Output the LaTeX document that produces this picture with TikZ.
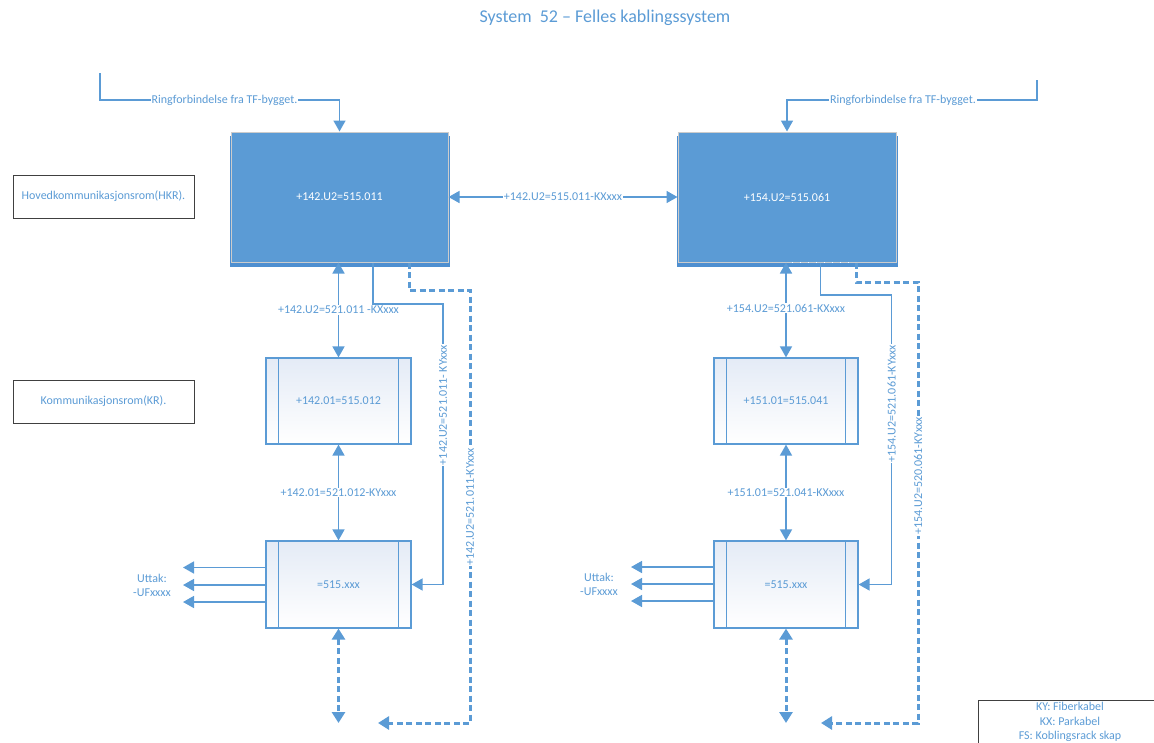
\documentclass[tikz,border=0pt]{standalone}
\usepackage{fontspec}
\setmainfont{Carlito}
\usetikzlibrary{arrows.meta}
\definecolor{bl}{HTML}{5B9BD5}
\definecolor{bltxt}{HTML}{5B9BD5}
\definecolor{shd}{HTML}{4E8FD0}
\definecolor{gtop}{HTML}{E4EBF6}
\tikzset{
  ln/.style={draw=bl, line width=1.6pt},
  dln/.style={draw=bl, line width=3pt, dash pattern=on 6pt off 3.5pt},
  tip/.style={-{Triangle[length=11pt,width=12pt]}},
  tips/.style={{Triangle[length=11pt,width=12pt]}-{Triangle[length=11pt,width=12pt]}},
  dtip/.style={-{Triangle[length=11pt,width=13pt]}},
  dtips/.style={{Triangle[length=11pt,width=13pt]}-{Triangle[length=11pt,width=13pt]}},
  bigbox/.style={fill=bl, draw=black!20, line width=1pt, text=white, font=\fontsize{12}{14}\selectfont},
  krbox/.style={draw=bl, line width=1.2pt, top color=gtop, bottom color=white, text=bltxt, font=\fontsize{12}{14}\selectfont},
  lbl/.style={fill=white, inner sep=1pt, text=bltxt, font=\fontsize{12}{14}\selectfont},
  side/.style={draw=black!75, line width=1pt, text=bltxt, minimum width=181pt, minimum height=43pt, inner sep=0pt, font=\fontsize{12}{14}\selectfont},
  txt/.style={text=bltxt, font=\fontsize{12}{14}\selectfont, inner sep=0pt, align=center},
}
\begin{document}
\begin{tikzpicture}[x=1pt,y=-1pt]
\useasboundingbox (0,0) rectangle (1154,742);
\clip (0,0) rectangle (1154,742);

% title
\node[text=bltxt, font=\fontsize{18}{20}\selectfont] (title) at (605,18) {System\ \ 52 -- Felles kablingssystem};

% shadows of main boxes
\fill[shd] (230,136) rectangle (450,267);
\fill[shd] (677,136) rectangle (898,267);
% main boxes
\node[bigbox, minimum width=217pt, minimum height=130pt, inner sep=0pt] (b1) at (339.5,197) {+142.U2=515.011};
\node[bigbox, minimum width=218pt, minimum height=130pt, inner sep=0pt] (b2) at (787,197) {+154.U2=515.061};
\draw[white, line width=1pt, dash pattern=on 1pt off 7pt] (792,262) -- (855,262);

% side labels
\node[side] (hkr) at (103.5,196.5) {Hovedkommunikasjonsrom(HKR).};
\node[side] (kr) at (103.5,401.5) {Kommunikasjonsrom(KR).};

% KR boxes
\node[krbox, minimum width=145pt, minimum height=86pt, inner sep=0pt] (k1) at (338.5,401) {+142.01=515.012};
\node[krbox, minimum width=144pt, minimum height=86pt, inner sep=0pt] (k2) at (786,401) {+151.01=515.041};
\node[krbox, minimum width=145pt, minimum height=87pt, inner sep=0pt] (u1) at (338.5,584.5) {=515.xxx};
\node[krbox, minimum width=144pt, minimum height=87pt, inner sep=0pt] (u2) at (786,584.5) {=515.xxx};
\foreach \n in {k1,k2,u1,u2}{
  \draw[draw=bl, line width=1.2pt] ([xshift=13pt]\n.north west) -- ([xshift=13pt]\n.south west);
  \draw[draw=bl, line width=1.2pt] ([xshift=-13pt]\n.north east) -- ([xshift=-13pt]\n.south east);
}

% ring connections
\coordinate (rl0) at (100,73);
\coordinate (rl1) at (100,100);
\coordinate (rl2) at (339.5,100);
\draw[ln, tip] (rl0) -- (rl1) -- node[lbl, pos=0.52]{Ringforbindelse fra TF-bygget.} (rl2) -- (b1.north);
\coordinate (rr0) at (1037,80);
\coordinate (rr1) at (1037,100);
\coordinate (rr2) at (787,100);
\draw[ln, tip] (rr0) -- (rr1) -- node[lbl, pos=0.536]{Ringforbindelse fra TF-bygget.} (rr2) -- (b2.north);

% horizontal link
\draw[ln, tips] (b1.east) -- node[lbl]{+142.U2=515.011-KXxxx} (b2.west);

% vertical links left
\draw[ln, tips] (b1.south -| k1.north) -- node[lbl, pos=0.5]{+142.U2=521.011 -KXxxx} (k1.north);
\draw[ln, tips] (k1.south) -- node[lbl]{+142.01=521.012-KYxxx} (u1.north);
% vertical links right
\draw[ln, tips] (b2.south -| k2.north) -- node[lbl, pos=0.48]{+154.U2=521.061-KXxxx} (k2.north);
\draw[ln, tips] (k2.south) -- node[lbl]{+151.01=521.041-KXxxx} (u2.north);

% KY solid left
\coordinate (sl1) at (373,304);
\coordinate (sl2) at (443,304);
\coordinate (sl3) at (443,584.5);
\draw[ln, tip] (b1.south -| sl1) -- (sl1) -- (sl2) -- node[lbl, rotate=90, pos=0.36]{+142.U2=521.011- KYxxx} (sl3) -- (u1.east);
% KY dashed left
\coordinate (dl1) at (409,290);
\coordinate (dl2) at (470,290);
\coordinate (dl3) at (470,723);
\coordinate (dl4) at (378,723);
\draw[dln, dtip] (b1.south -| dl1) -- (dl1) -- (dl2) -- node[lbl, rotate=90, pos=0.50]{+142.U2=521.011-KYxxx} (dl3) -- (dl4);

% KY solid right
\coordinate (sr1) at (820.5,295);
\coordinate (sr2) at (891.5,295);
\coordinate (sr3) at (891.5,584.5);
\draw[ln, tip] (b2.south -| sr1) -- (sr1) -- (sr2) -- node[lbl, rotate=90, pos=0.375]{+154.U2=521.061-KYxxx} (sr3) -- (u2.east);
% KY dashed right
\coordinate (dr1) at (856,282);
\coordinate (dr2) at (918,282);
\coordinate (dr3) at (918,723);
\coordinate (dr4) at (821,723);
\draw[dln, dtip] (b2.south -| dr1) -- (dr1) -- (dr2) -- node[lbl, rotate=90, pos=0.44]{+154.U2=520.061-KYxxx} (dr3) -- (dr4);

% dashed down arrows
\coordinate (dd1) at (338.5,723);
\coordinate (dd2) at (786,723);
\draw[dln, dtips] (u1.south) -- (dd1);
\draw[dln, dtips] (u2.south) -- (dd2);

% Uttak arrows left
\coordinate (ol1) at (183,567.5);
\coordinate (ol2) at (183,585);
\coordinate (ol3) at (183,602);
\foreach \c in {ol1,ol2,ol3}{\draw[ln, tip] (u1.west |- \c) -- (\c);}
\node[txt] (utl) at (152,585) {Uttak:\\-UFxxxx};
% Uttak arrows right
\coordinate (or1) at (631,567);
\coordinate (or2) at (631,584);
\coordinate (or3) at (631,601);
\foreach \c in {or1,or2,or3}{\draw[ln, tip] (u2.west |- \c) -- (\c);}
\node[txt] (utr) at (599,584) {Uttak:\\-UFxxxx};

% legend
\draw[draw=black!75, line width=1pt] (978,750) -- (978,700.5) -- (1160,700.5);
\node[txt, align=center, font=\fontsize{12}{14.5}\selectfont] (leg) at (1070,722) {KY: Fiberkabel\\KX: Parkabel\\FS: Koblingsrack skap};
\end{tikzpicture}
\end{document}
